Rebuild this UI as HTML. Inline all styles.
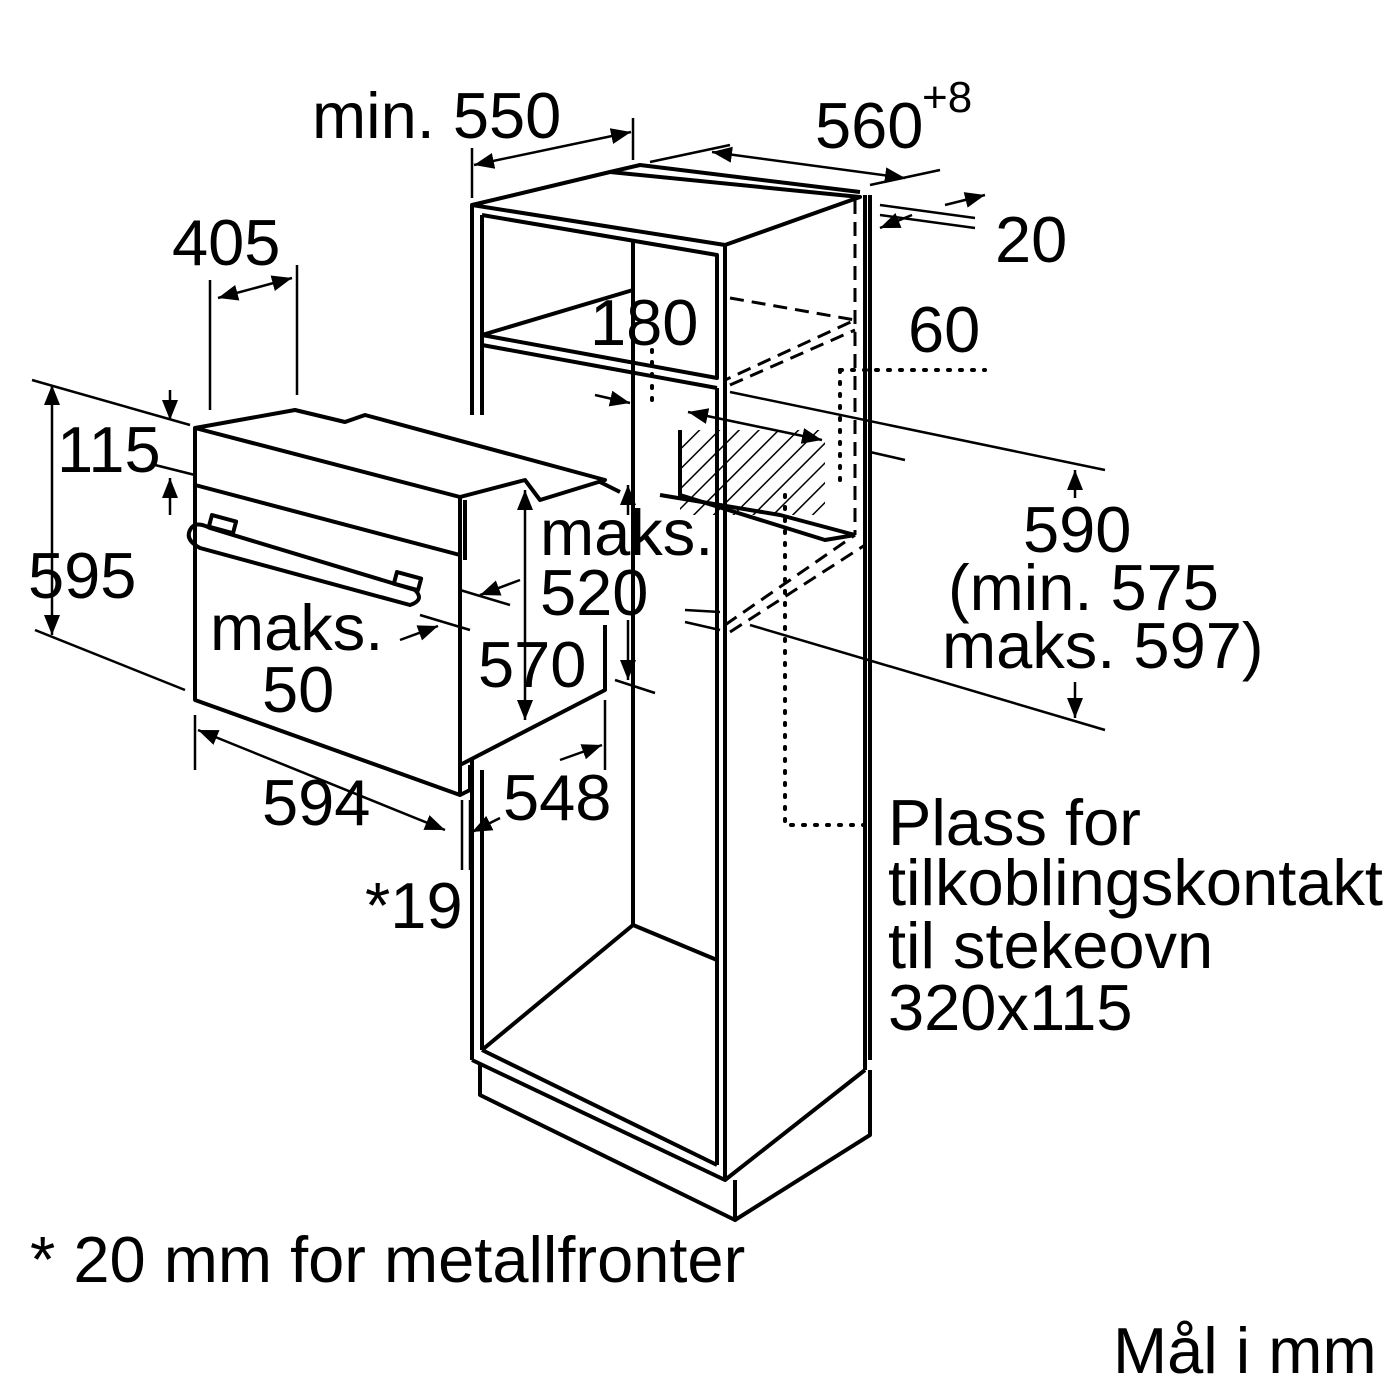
<!DOCTYPE html>
<html><head><meta charset="utf-8"><style>
html,body{margin:0;padding:0;background:#fff}
svg{display:block}
text{font-family:"Liberation Sans",sans-serif;font-size:65px;fill:#000}
</style></head><body>
<svg width="1400" height="1400" viewBox="0 0 1400 1400" xmlns="http://www.w3.org/2000/svg">
<defs>
<marker id="a" viewBox="0 0 10 10" refX="10" refY="5" markerWidth="8" markerHeight="8" orient="auto-start-reverse"><path d="M0,1 L10,5 L0,9z" fill="#000"/></marker>
<pattern id="h" width="14" height="14" patternUnits="userSpaceOnUse" patternTransform="rotate(45)"><line x1="0" y1="0" x2="0" y2="14" stroke="#000" stroke-width="3"/></pattern>
</defs>
<g fill="none" stroke="#000" stroke-width="4" stroke-linejoin="round">
<path d="M472,415 L472,205 L610,172 L860,197 L725,245 L472,205"/>
<path d="M610,172 L640,165 L860,192"/>
<line x1="482" y1="215" x2="482" y2="415"/>
<path d="M482,215 L717,255 L717,378 L482,335"/>
<line x1="633" y1="240" x2="633" y2="925"/>
<path d="M482,335 L633,290"/>
<path d="M482,345 L717,388"/>
<line x1="725" y1="245" x2="725" y2="1180"/>
<line x1="717" y1="388" x2="717" y2="1165"/>
<line x1="865" y1="195" x2="865" y2="1070"/>
<line x1="472" y1="760" x2="472" y2="1060"/>
<line x1="482" y1="770" x2="482" y2="1050"/>
<path d="M482,1050 L633,925 L717,960"/>
<path d="M472,1060 L725,1180 L865,1070"/>
<path d="M482,1050 L717,1165"/>
<path d="M480,1065 L480,1095 L735,1220 L735,1180"/>
<path d="M735,1220 L870,1135 L870,1070"/>
<path d="M870,195 L870,1060"/>
<rect x="680" y="430" width="145" height="85" fill="url(#h)" stroke="none"/>
<path d="M680,430 L680,495 L825,540 L855,535"/>
<path d="M660,495 L780,515 L855,535"/>
<path d="M195,428 L460,497 L460,795 L195,700 Z"/>
<line x1="195" y1="485" x2="460" y2="555"/>
<path d="M195,428 L295,410 L345,422 L365,415 L605,480 L540,500 L525,480 L460,497"/>
<path d="M465,500 L465,560"/>
<path d="M600,482 L620,492"/>
<path d="M460,765 L605,690 L605,625"/>
<path d="M460,795 L470,790 L470,765"/>
<path d="M190,530 Q195,520 210,528 L415,590 Q425,600 410,605 L200,548 Q185,540 190,530 Z"/>
<rect x="210" y="518" width="25" height="12" transform="rotate(15 222 524)"/>
<rect x="395" y="575" width="25" height="12" transform="rotate(15 407 581)"/>
</g>
<g fill="none" stroke="#000" stroke-width="3" stroke-dasharray="14,8">
<line x1="855" y1="200" x2="855" y2="535"/>
<path d="M730,298 L855,320 L725,380"/>
<path d="M730,385 L855,330"/>
<path d="M725,625 L855,535"/>
<path d="M730,632 L865,545"/>
</g>
<g fill="none" stroke="#000" stroke-width="4" stroke-dasharray="2,10" stroke-linecap="round">
<path d="M785,495 L785,825 L875,825"/>
<line x1="840" y1="370" x2="985" y2="370"/>
<line x1="840" y1="370" x2="840" y2="480"/>
<line x1="652" y1="350" x2="652" y2="410"/>
</g>
<g fill="none" stroke="#000" stroke-width="2.5">
<line x1="472" y1="148" x2="472" y2="198"/>
<line x1="633" y1="118" x2="633" y2="160"/>
<line x1="474" y1="165" x2="631" y2="132" marker-start="url(#a)" marker-end="url(#a)"/>
<line x1="650" y1="162" x2="730" y2="145"/>
<line x1="712" y1="152" x2="905" y2="178" marker-start="url(#a)" marker-end="url(#a)"/>
<line x1="870" y1="185" x2="940" y2="170"/>
<line x1="880" y1="205" x2="975" y2="218"/>
<line x1="880" y1="215" x2="975" y2="228"/>
<line x1="945" y1="205" x2="985" y2="195" marker-end="url(#a)"/>
<line x1="912" y1="215" x2="880" y2="228" marker-end="url(#a)"/>
<line x1="210" y1="280" x2="210" y2="410"/>
<line x1="297" y1="265" x2="297" y2="395"/>
<line x1="218" y1="298" x2="292" y2="278" marker-start="url(#a)" marker-end="url(#a)"/>
<line x1="32" y1="380" x2="190" y2="425"/>
<line x1="52" y1="385" x2="52" y2="635" marker-start="url(#a)" marker-end="url(#a)"/>
<line x1="35" y1="630" x2="185" y2="690"/>
<line x1="155" y1="465" x2="195" y2="475"/>
<line x1="170" y1="390" x2="170" y2="420" marker-end="url(#a)"/>
<line x1="170" y1="515" x2="170" y2="478" marker-end="url(#a)"/>
<line x1="525" y1="490" x2="525" y2="720" marker-start="url(#a)" marker-end="url(#a)"/>
<line x1="460" y1="590" x2="510" y2="605"/>
<line x1="520" y1="580" x2="480" y2="595" marker-end="url(#a)"/>
<line x1="400" y1="640" x2="438" y2="626" marker-end="url(#a)"/>
<line x1="470" y1="630" x2="420" y2="615"/>
<line x1="628" y1="485" x2="628" y2="515" marker-start="url(#a)"/>
<line x1="628" y1="620" x2="628" y2="680" marker-end="url(#a)"/>
<line x1="615" y1="680" x2="655" y2="693"/>
<line x1="195" y1="715" x2="195" y2="770"/>
<line x1="198" y1="730" x2="445" y2="830" marker-start="url(#a)" marker-end="url(#a)"/>
<line x1="605" y1="700" x2="605" y2="770"/>
<line x1="602" y1="745" x2="560" y2="760" marker-start="url(#a)"/>
<line x1="462" y1="800" x2="462" y2="870"/>
<line x1="470" y1="800" x2="470" y2="870"/>
<line x1="500" y1="818" x2="472" y2="832" marker-end="url(#a)"/>
<line x1="595" y1="395" x2="630" y2="403" marker-end="url(#a)"/>
<line x1="688" y1="412" x2="822" y2="440" marker-start="url(#a)" marker-end="url(#a)"/>
<line x1="870" y1="452" x2="905" y2="460"/>
<line x1="730" y1="392" x2="1105" y2="470"/>
<line x1="750" y1="625" x2="1105" y2="730"/>
<line x1="1075" y1="498" x2="1075" y2="470" marker-end="url(#a)"/>
<line x1="1075" y1="682" x2="1075" y2="718" marker-end="url(#a)"/>
<line x1="685" y1="610" x2="720" y2="612"/>
<line x1="685" y1="622" x2="720" y2="630"/>
</g>
<text x="312" y="138">min. 550</text>
<text x="815" y="148">560</text>
<text x="922" y="112" style="font-size:44px">+8</text>
<text x="995" y="262">20</text>
<text x="172" y="265">405</text>
<text x="590" y="345">180</text>
<text x="908" y="352">60</text>
<text x="57" y="472">115</text>
<text x="28" y="598">595</text>
<text x="540" y="555">maks.</text>
<text x="540" y="615">520</text>
<text x="1023" y="552">590</text>
<text x="948" y="610">(min. 575</text>
<text x="942" y="668">maks. 597)</text>
<text x="210" y="650">maks.</text>
<text x="262" y="712">50</text>
<text x="478" y="687">570</text>
<text x="262" y="825">594</text>
<text x="503" y="820">548</text>
<text x="365" y="928">*19</text>
<text x="888" y="845">Plass for</text>
<text x="888" y="905">tilkoblingskontakt</text>
<text x="888" y="968">til stekeovn</text>
<text x="888" y="1030">320x115</text>
<text x="30" y="1282">* 20 mm for metallfronter</text>
<text x="1113" y="1373">Mål i mm</text>
</svg>
</body></html>
